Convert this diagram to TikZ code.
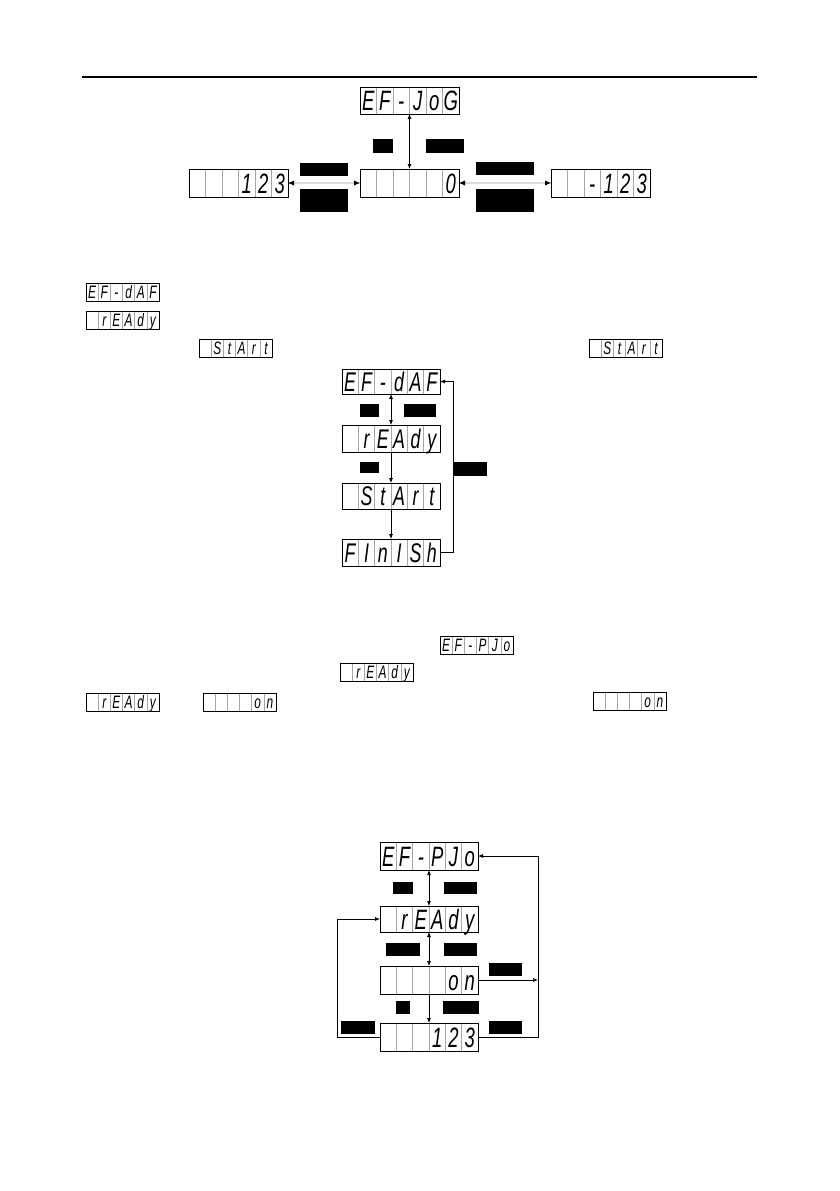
\documentclass[tikz,border=0pt]{standalone}
\usepackage{fontspec}
\usepackage{graphicx}
\setsansfont{Liberation Sans}
\usetikzlibrary{arrows.meta,calc}
\tikzset{
  x=1pt, y=-1pt,
  >={Latex[length=5pt,width=4pt]},
  dispbox/.style={draw=black, line width=0.8pt, inner sep=0pt, outer sep=0pt, anchor=north west},
  celldiv/.style={draw=black!35, line width=0.5pt},
  segtext/.style={inner sep=0pt, outer sep=0pt, anchor=center},
  blk/.style={fill=black, draw=none, inner sep=0pt, outer sep=0pt, anchor=north west},
  conn/.style={draw=black, line width=0.7pt},
  graycon/.style={draw=black!14, line width=2.3pt,
    {Latex[length=6pt,width=5pt,color=black,line width=0pt]}-{Latex[length=6pt,width=5pt,color=black,line width=0pt]}},
  headrule/.style={line width=1.6pt}
}
% #1 name, #2 x, #3 y, #4 width, #5 height, #6 font size, #7 six cell characters
\newcommand\segdisp[7]{%
  \foreach \k in {1,...,5}{\draw[celldiv] ({#2+\k*#4/6},{#3}) -- ({#2+\k*#4/6},{#3+#5});}
  \node[dispbox, minimum width=#4pt, minimum height=#5pt] (#1) at (#2,#3) {};
  \foreach \c [count=\k] in {#7}{%
    \node[segtext, text height={0.72*#6pt}, text depth=0pt,
      font=\sffamily\itshape\fontsize{#6}{#6}\selectfont] (#1-\k)
      at ({#2+(\k-0.5)*#4/6},{#3+#5/2}) {\scalebox{0.66}[1]{\c}};}%
}
\newcommand\blkbox[5]{\node[blk, minimum width=#4pt, minimum height=#5pt] (#1) at (#2,#3) {};}
\begin{document}
\begin{tikzpicture}
\useasboundingbox[fill=white] (0,0) rectangle (839,1191);
% header rule
\coordinate (hl) at (82,77);
\coordinate (hr) at (757,77);
\draw[headrule] (hl) -- (hr);

% ---------- top diagram ----------
\segdisp{jog}{360}{87}{99}{27}{28}{E,F,-,J,o,G}
\segdisp{zero}{360}{169}{99}{28}{28}{ , , , , ,0}
\segdisp{pos}{189}{169}{99}{28}{28}{ , , ,1,2,3}
\segdisp{neg}{551}{169}{99}{28}{28}{ , ,-,1,2,3}
\draw[conn,<->] (jog.south) -- (zero.north);
\draw[graycon] (pos.east) -- (zero.west);
\draw[graycon] (zero.east) -- (neg.west);
\blkbox{t1}{373}{139}{20}{14}
\blkbox{t2}{426}{139}{38}{14}
\blkbox{t3}{300}{163}{48}{13}
\blkbox{t4}{300}{189}{48}{23}
\blkbox{t5}{476}{162}{58}{13}
\blkbox{t6}{476}{189}{58}{23}

% ---------- inline displays ----------
\segdisp{idaf}{86}{283}{73}{18}{18}{E,F,-,d,A,F}
\segdisp{irdy}{86}{311}{73}{18}{18}{ ,r,E,A,d,y}
\segdisp{ista}{199}{339}{73}{18}{18}{ ,S,t,A,r,t}
\segdisp{istb}{589}{339}{73}{18}{18}{ ,S,t,A,r,t}
\segdisp{ipjo}{440}{636}{73}{18}{18}{E,F,-,P,J,o}
\segdisp{irdyb}{340}{663}{73}{18}{18}{ ,r,E,A,d,y}
\segdisp{irdyc}{86}{693}{73}{18}{18}{ ,r,E,A,d,y}
\segdisp{ion}{203}{693}{73}{18}{18}{ , , , ,o,n}
\segdisp{ionb}{593}{692}{73}{18}{18}{ , , , ,o,n}

% ---------- middle diagram ----------
\segdisp{daf}{342}{369}{98}{25}{27}{E,F,-,d,A,F}
\segdisp{rdy}{342}{425}{98}{27}{27}{ ,r,E,A,d,y}
\segdisp{sta}{342}{483}{98}{26}{27}{ ,S,t,A,r,t}
\segdisp{fin}{342}{539}{98}{27}{27}{F,I,n,I,S,h}
\draw[conn,<->] (daf.south) -- (rdy.north);
\draw[conn,->] (rdy.south) -- (sta.north);
\draw[conn,->] (sta.south) -- (fin.north);
\coordinate (mloop) at (453,460);
\draw[conn,->] (fin.east) -- (fin.east -| mloop) -- (daf.east -| mloop) -- (daf.east);
\blkbox{m1}{360}{404}{19}{13}
\blkbox{m2}{404}{404}{32}{13}
\blkbox{m3}{360}{462}{19}{11}
\blkbox{m4}{454}{462}{33}{14}

% ---------- bottom diagram ----------
\segdisp{pjo}{380}{842}{98}{28}{28}{E,F,-,P,J,o}
\segdisp{rdyb}{380}{906}{98}{26}{28}{ ,r,E,A,d,y}
\segdisp{onb}{380}{966}{98}{28}{28}{ , , , ,o,n}
\segdisp{num}{380}{1023}{98}{28}{28}{ , , ,1,2,3}
\draw[conn,<->] (pjo.south) -- (rdyb.north);
\draw[conn,<->] (rdyb.south) -- (onb.north);
\draw[conn,->] (onb.south) -- (num.north);
\coordinate (rloop) at (538,950);
\coordinate (lloop) at (337,950);
\draw[conn,->] (num.east) -- (num.east -| rloop) -- (pjo.east -| rloop) -- (pjo.east);
\draw[conn,->] (onb.east) -- (onb.east -| rloop);
\draw[conn,->] (num.west) -- (num.west -| lloop) -- (rdyb.west -| lloop) -- (rdyb.west);
\blkbox{b1}{393}{882}{20}{12}
\blkbox{b2}{444}{882}{33}{12}
\blkbox{b3}{386}{943}{34}{13}
\blkbox{b4}{444}{943}{33}{13}
\blkbox{b5}{489}{963}{33}{13}
\blkbox{b6}{396}{1001}{14}{13}
\blkbox{b7}{443}{1001}{36}{13}
\blkbox{b8}{341}{1021}{34}{13}
\blkbox{b9}{489}{1021}{33}{13}
\end{tikzpicture}
\end{document}
